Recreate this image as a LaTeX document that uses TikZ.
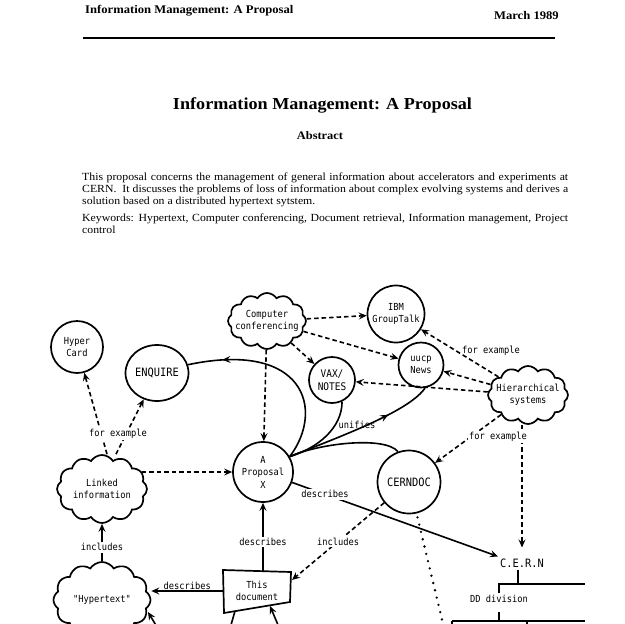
\documentclass[tikz,border=0pt]{standalone}
\usepackage{fontspec}
\setmainfont{Liberation Serif}[FakeStretch=1.08]
\newfontfamily\letterfont{DejaVu Sans Mono}[FakeStretch=0.9]
\usetikzlibrary{arrows.meta,shapes.geometric,shapes.symbols,decorations.markings}

\tikzset{
	lettering/.style={font=\letterfont\fontsize{9.7}{12.5}\selectfont, align=center, inner sep=0pt},
	capsletter/.style={font=\letterfont\fontsize{11.5}{12.5}\selectfont, align=center, inner sep=0pt},
	bubble/.style={circle, draw, line width=1.7pt, inner sep=0pt},
	puff/.style={cloud, cloud puffs=12, cloud puff arc=115, draw, line width=1.7pt, inner sep=0pt},
	solidline/.style={line width=1.6pt},
	arrowline/.style={solidline, -{Stealth[length=8pt,width=7pt,inset=3pt]}},
	dashedarrow/.style={arrowline, dash pattern=on 4.5pt off 3pt},
	midarrow/.style={solidline, decoration={markings, mark=at position #1 with {\arrow{Stealth[length=8pt,width=7pt,inset=3pt]}}}, postaction={decorate}},
	dotline/.style={line width=2.6pt, line cap=round, dash pattern=on 0pt off 7.5pt},
	tag/.style={lettering, fill=white, inner sep=1.5pt},
}

\begin{document}
\begin{tikzpicture}[x=1pt, y=-1pt]
	\useasboundingbox (0,0) rectangle (624,624);
	\clip (0,0) rectangle (624,624);
	%Header
	\node[anchor=base west, inner sep=0pt, font=\fontsize{11.7}{14}\selectfont\bfseries] (runhead) at (85,13.5) {Information Management: A Proposal};
	\node[anchor=base east, inner sep=0pt, font=\fontsize{11.7}{14}\selectfont\bfseries] (rundate) at (559,19) {March 1989};
	\draw[line width=1.2pt] (83,38) -- (555,38);
	%Title
	\node[anchor=base, inner sep=0pt, font=\fontsize{16.8}{20}\selectfont\bfseries] (title) at (322.5,109.5) {Information Management: A Proposal};
	\node[anchor=base, inner sep=0pt, font=\fontsize{11.5}{14}\selectfont\bfseries] (abstracthead) at (320,139) {Abstract};
	%Abstract
	\node[anchor=base west, inner sep=0pt, text width=486pt, align=justify, font=\fontsize{10.9}{11.7}\selectfont] (abstracttext) at (82,180.7)
		{This proposal concerns the management of general information about accelerators and experiments at\linebreak CERN.\ \ It discusses the problems of loss of information about complex evolving systems and derives a\linebreak solution based on a distributed hypertext sytstem.};
	\node[anchor=base west, inner sep=0pt, text width=486pt, align=justify, font=\fontsize{10.9}{11.7}\selectfont] (keywords) at (82,221.5)
		{Keywords: Hypertext, Computer conferencing, Document retrieval, Information management, Project\linebreak control};

	%Bubbles
	\node[bubble, minimum size=52pt, lettering] (hypercard) at (77,347) {Hyper\\Card};
	\node[ellipse, draw, line width=1.7pt, minimum width=63pt, minimum height=56pt, capsletter] (enquire) at (157,373) {ENQUIRE};
	\node[bubble, minimum size=57pt, lettering] (grouptalk) at (396,314) {IBM\\GroupTalk};
	\node[bubble, minimum size=45pt, lettering] (uucp) at (421,365) {uucp\\News};
	\node[bubble, minimum size=46pt, capsletter, font=\letterfont\fontsize{10.5}{12.5}\selectfont] (vaxnotes) at (332,380) {VAX/\\NOTES};
	\node[bubble, minimum size=60pt, lettering] (proposal) at (263,472) {A\\Proposal\\X};
	\node[bubble, minimum size=63pt, capsletter] (cerndoc) at (409,482) {CERNDOC};
	%Clouds
	\node[puff, minimum width=78pt, minimum height=56pt] (confer) at (267,321) {};
	\node[lettering] (confertext) at (confer) {Computer\\conferencing};
	\node[puff, minimum width=80pt, minimum height=58pt] (hier) at (528,395) {};
	\node[lettering] (hiertext) at (hier) {Hierarchical\\systems};
	\node[puff, minimum width=90pt, minimum height=68pt] (linked) at (102,489) {};
	\node[lettering] (linkedtext) at (linked) {Linked\\information};
	\node[puff, minimum width=97pt, minimum height=76pt] (hypertext) at (102,600) {};
	\node[lettering] (hypertexttext) at (hypertext) {"Hypertext"};
	%This document
	\node[minimum width=67pt, minimum height=38pt, lettering] (thisdoc) at (257,591) {This\\document};
	\draw[line width=1.7pt] ([shift={(-34,-21)}]thisdoc.center) -- ([shift={(34,-19)}]thisdoc.center)
		-- ([shift={(33,11)}]thisdoc.center) -- ([shift={(-33,22)}]thisdoc.center) -- cycle;
	%CERN tree
	\node[capsletter, inner sep=2pt] (cern) at (522,563) {C.E.R.N};
	\node[lettering, inner sep=2pt] (ddiv) at (499,599) {DD division};
	\coordinate (cernbar) at (518,584);
	\coordinate (ddbar) at (499,621);
	\draw[solidline] (cern.south -| cernbar) -- (cernbar);
	\draw[solidline] (ddiv.north) |- (cernbar) -- ++(67,0);
	\draw[solidline] (ddbar) -- ++(0,-9);
	\draw[solidline] ([xshift=-47pt]ddbar) -- ([xshift=86pt]ddbar);
	\draw[solidline] ([xshift=-47pt]ddbar) -- ++(0,10);
	\draw[solidline] ([xshift=28pt]ddbar) -- ++(0,10);

	%Dashed links
	\draw[dashedarrow] ([xshift=5pt]linked.north) -- (hypercard);
	\draw[dashedarrow] ([xshift=14pt]linked.north) -- (enquire);
	\draw[dashedarrow] ([xshift=-6pt]linked.east |- proposal.west) -- (proposal.west);
	\draw[dashedarrow] (confer) -- (grouptalk);
	\draw[dashedarrow] (confer) -- (uucp);
	\draw[dashedarrow] (confer) -- (vaxnotes);
	\draw[dashedarrow] (confer) -- (proposal);
	\draw[dashedarrow] (hier) -- (grouptalk);
	\draw[dashedarrow] (hier) -- (uucp);
	\draw[dashedarrow] (hier) -- (vaxnotes);
	\draw[dashedarrow] (hier) -- (cerndoc);
	\draw[dashedarrow, shorten >=9pt] (cern.north |- hier.south) -- (cern.north);
	\draw[dashedarrow] (cerndoc) -- ([shift={(35,-11)}]thisdoc.center) node[midway, tag] {includes};

	%Unifies
	\draw[midarrow=0.82] (proposal.30) .. controls (325,410) and (305,340) .. (enquire.15);
	\draw[solidline] (proposal.30) .. controls (318,448) and (342,428) .. (vaxnotes.-65);
	\draw[midarrow=0.7] (proposal.30) .. controls (350,433) and (410,410) .. (uucp.-80);
	\draw[solidline] (proposal.30) .. controls (320,443) and (385,436) .. (cerndoc.110);

	%Describes
	\draw[arrowline] (proposal.south |- thisdoc.north) -- (proposal.south) node[pos=0.43, tag] {describes};
	\draw[arrowline] (thisdoc.west) -- (thisdoc.west -| hypertext.east) node[midway, above=0.5pt, lettering] {describes};
	\draw[arrowline] (proposal) -- (cern.north west) node[pos=0.16, tag] {describes};
	\draw[arrowline] (hypertext.north) -- (linked.south) node[pos=0.37, tag] {includes};
	\draw[dotline, shorten <=4pt] (cerndoc) -- (445,632);

	%Labels
	\node[tag] (forex1) at (118,434) {for example};
	\node[lettering] (forex2) at (491,351) {for example};
	\node[tag] (forex3) at (498,437) {for example};
	\node[lettering] (unifies) at (357,425) {unifies};

	%Bottom edge
	\coordinate (stubleft) at (160,632);
	\coordinate (stubmid) at (229,632);
	\coordinate (stubright) at (281,632);
	\draw[arrowline] (stubleft) -- ([shift={(46,12)}]hypertext.center);
	\draw[solidline] ([shift={(-22,20)}]thisdoc.center) -- (stubmid);
	\draw[arrowline] (stubright) -- ([shift={(13,15)}]thisdoc.center);
\end{tikzpicture}
\end{document}
